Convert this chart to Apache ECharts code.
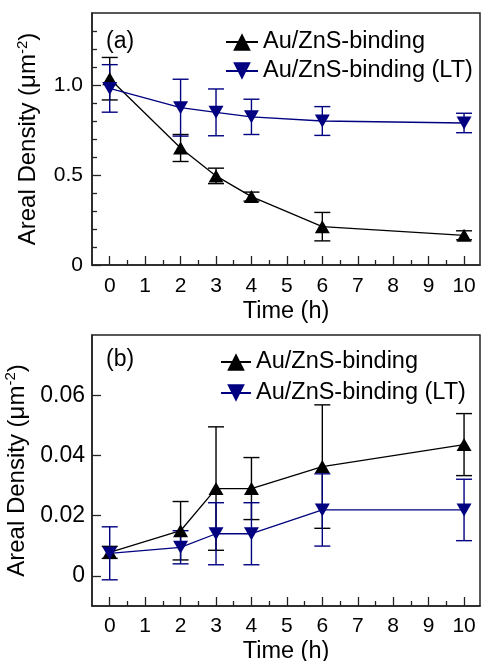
<!DOCTYPE html>
<html><head><meta charset="utf-8">
<script src="https://cdn.jsdelivr.net/npm/echarts@6/dist/echarts.min.js"></script>
<style>html,body{margin:0;padding:0;background:#fff}#c{width:481px;height:661px}</style>
</head><body><div id="c"></div>
<script>
const times = [0, 2, 3, 4, 6, 10];
const seriesNames = ['Au/ZnS-binding', 'Au/ZnS-binding (LT)'];
// panel (a)
const aBind = [1.035, 0.65, 0.495, 0.38, 0.213, 0.165];
const aBindErr = [0.118, 0.075, 0.043, 0.025, 0.079, 0.025];
const aLT = [0.981, 0.874, 0.848, 0.823, 0.80, 0.789];
const aLTErr = [0.132, 0.158, 0.13, 0.098, 0.08, 0.054];
// panel (b)
const bBind = [0.0078, 0.015, 0.029, 0.029, 0.0363, 0.0436];
const bBindErr = [0.002, 0.0097, 0.0205, 0.0103, 0.0205, 0.0103];
const bLT = [0.0075, 0.0095, 0.014, 0.014, 0.0219, 0.0219];
const bLTErr = [0.0088, 0.0055, 0.0103, 0.0103, 0.012, 0.0102];
const xMajor = [0, 1, 2, 3, 4, 5, 6, 7, 8, 9, 10];
const xMinor = [0.5, 1.5, 2.5, 3.5, 4.5, 5.5, 6.5, 7.5, 8.5, 9.5];
const aYMajor = [0, 0.5, 1.0];
const aYMinor = [0.1, 0.2, 0.3, 0.4, 0.6, 0.7, 0.8, 0.9, 1.1, 1.2, 1.3];
const bYMajor = [0, 0.02, 0.04, 0.06];

const FONT = 'Liberation Sans, Arial, sans-serif';
const BLACK = '#000000', BLUE = '#000080', AXIS = '#222222';

function pairs(vals) { return times.map((t, i) => [t, vals[i]]); }
function errData(vals, errs) { return times.map((t, i) => [t, vals[i], errs[i]]); }

function errSeries(name, vals, errs, color, gi) {
  return {
    type: 'custom', name: name + ' error', xAxisIndex: gi * 2, yAxisIndex: gi * 2, z: 3,
    data: errData(vals, errs), silent: true,
    renderItem: function (params, api) {
      const x = api.value(0), y = api.value(1), e = api.value(2);
      const t = api.coord([x, y + e]), b = api.coord([x, y - e]);
      const hw = 8, st = { stroke: color, lineWidth: 1.4, fill: null };
      return { type: 'group', children: [
        { type: 'line', shape: { x1: t[0], y1: t[1], x2: b[0], y2: b[1] }, style: st },
        { type: 'line', shape: { x1: t[0] - hw, y1: t[1], x2: t[0] + hw, y2: t[1] }, style: st },
        { type: 'line', shape: { x1: b[0] - hw, y1: b[1], x2: b[0] + hw, y2: b[1] }, style: st }
      ] };
    }
  };
}
function lineSeries(name, vals, color, up, gi) {
  return {
    type: 'line', name: name, xAxisIndex: gi * 2, yAxisIndex: gi * 2, z: 4,
    data: pairs(vals), symbol: 'triangle', symbolSize: [15, 13], symbolRotate: up ? 0 : 180,
    lineStyle: { color: color, width: 1.3 }, itemStyle: { color: color }, emphasis: { disabled: true }
  };
}

const grids = [
  { left: 92, top: 13, width: 388, height: 252, show: true, borderColor: AXIS, borderWidth: 1.5, containLabel: false, outerBoundsMode: 'none' },
  { left: 92, top: 335, width: 388, height: 271, show: true, borderColor: AXIS, borderWidth: 1.5, containLabel: false, outerBoundsMode: 'none' }
];
function xAxes(gi, margin, gap) {
  const base = { type: 'value', gridIndex: gi, position: 'bottom', min: -0.5, max: 10.45, splitLine: { show: false } };
  return [
    Object.assign({}, base, {
      name: 'Time (h)', nameLocation: 'middle', nameGap: gap,
      nameTextStyle: { fontFamily: FONT, fontSize: 23.5, color: '#000' },
      axisLine: { show: true, onZero: false, lineStyle: { color: AXIS, width: 1.5 } },
      axisTick: { show: true, inside: true, length: 9, customValues: xMajor, lineStyle: { color: AXIS, width: 1.3 } },
      axisLabel: { show: true, customValues: xMajor, margin: margin, fontFamily: FONT, fontSize: 21, color: '#000' }
    }),
    Object.assign({}, base, {
      axisLine: { show: false, onZero: false },
      axisTick: { show: true, inside: true, length: 5, customValues: xMinor, lineStyle: { color: AXIS, width: 1.3 } },
      axisLabel: { show: false }
    })
  ];
}
function yName() {
  return {
    name: '{n|Areal Density (μm}{s|-2}{n|)}', nameLocation: 'middle', nameGap: 50,
    nameTextStyle: { rich: {
      n: { fontFamily: FONT, fontSize: 24, color: '#000' },
      s: { fontFamily: FONT, fontSize: 15, color: '#000', padding: [0, 0, 12, 0] }
    } }
  };
}
const option = {
  animation: false,
  backgroundColor: '#fff',
  grid: grids,
  xAxis: xAxes(0, 11, 35).concat(xAxes(1, 10, 34)),
  yAxis: [
    Object.assign({ type: 'value', gridIndex: 0, position: 'left', min: 0, max: 1.4, splitLine: { show: false },
      axisLine: { show: true, onZero: false, lineStyle: { color: AXIS, width: 1.5 } },
      axisTick: { show: true, inside: true, length: 9, customValues: aYMajor, lineStyle: { color: AXIS, width: 1.3 } },
      axisLabel: { customValues: aYMajor, margin: 9, fontFamily: FONT, fontSize: 21, color: '#000',
        formatter: v => v === 0 ? '0' : v.toFixed(1) } }, yName()),
    { type: 'value', gridIndex: 0, position: 'left', min: 0, max: 1.4, splitLine: { show: false }, axisLine: { show: false, onZero: false },
      axisTick: { show: true, inside: true, length: 5, customValues: aYMinor, lineStyle: { color: AXIS, width: 1.3 } },
      axisLabel: { show: false } },
    Object.assign({ type: 'value', gridIndex: 1, position: 'left', min: -0.01, max: 0.08, splitLine: { show: false },
      axisLine: { show: true, onZero: false, lineStyle: { color: AXIS, width: 1.5 } },
      axisTick: { show: true, inside: true, length: 9, customValues: bYMajor, lineStyle: { color: AXIS, width: 1.3 } },
      axisLabel: { customValues: bYMajor, margin: 7, fontFamily: FONT, fontSize: 23, color: '#000',
        formatter: v => v === 0 ? '0' : v.toFixed(2) } }, yName()),
    { type: 'value', gridIndex: 1, position: 'left', min: -0.01, max: 0.08, splitLine: { show: false }, axisLine: { show: false, onZero: false },
      axisTick: { show: false }, axisLabel: { show: false } }
  ],
  legend: [
    { orient: 'vertical', left: 225, top: 30, padding: 0, itemGap: 5, itemWidth: 32, itemHeight: 22,
      data: seriesNames, textStyle: { fontFamily: FONT, fontSize: 23.5, color: '#000', lineHeight: 22 }, selectedMode: false },
    { orient: 'vertical', left: 220, top: 350, padding: 0, itemGap: 7, itemWidth: 30, itemHeight: 22,
      data: seriesNames, textStyle: { fontFamily: FONT, fontSize: 23.5, color: '#000', lineHeight: 22 }, selectedMode: false }
  ],
  graphic: [
    { type: 'text', left: 106, top: 30, style: { text: '(a)', font: '23px ' + FONT, fill: '#000' } },
    { type: 'text', left: 106, top: 348, style: { text: '(b)', font: '23px ' + FONT, fill: '#000' } }
  ],
  series: [
    errSeries(seriesNames[0], aBind, aBindErr, BLACK, 0),
    lineSeries(seriesNames[0], aBind, BLACK, true, 0),
    errSeries(seriesNames[1], aLT, aLTErr, BLUE, 0),
    lineSeries(seriesNames[1], aLT, BLUE, false, 0),
    errSeries(seriesNames[0], bBind, bBindErr, BLACK, 1),
    lineSeries(seriesNames[0], bBind, BLACK, true, 1),
    errSeries(seriesNames[1], bLT, bLTErr, BLUE, 1),
    lineSeries(seriesNames[1], bLT, BLUE, false, 1)
  ]
};
const chart = echarts.init(document.getElementById('c'), null, { renderer: 'canvas' });
chart.setOption(option);
</script></body></html>
